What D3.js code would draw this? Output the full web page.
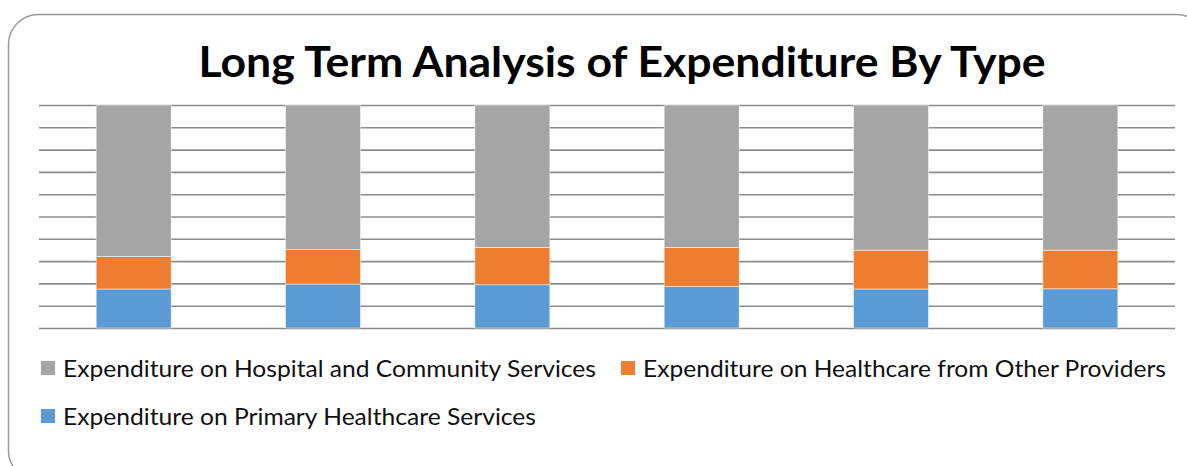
<!DOCTYPE html>
<html>
<head>
<meta charset="utf-8">
<script src="https://cdn.jsdelivr.net/npm/d3@7"></script>
<style>
  body { margin: 0; background: #fff; }
  svg { display: block; }
</style>
</head>
<body>
<div id="chart"></div>
<script>
// data (percent of total per period)
var periods = ["P1", "P2", "P3", "P4", "P5", "P6"];
var primary = [17.5, 19.7, 19.4, 18.6, 17.5, 17.6];
var otherProviders = [14.6, 15.5, 16.7, 17.5, 17.4, 17.3];
var hospital = [67.9, 64.8, 63.9, 63.9, 65.1, 65.1];
var yTicks = [0, 0.1, 0.2, 0.3, 0.4, 0.5, 0.6, 0.7, 0.8, 0.9, 1];

var seriesKeys = ["primary", "other", "hospital"];
var seriesNames = {
    hospital: "Expenditure on Hospital and Community Services",
    other: "Expenditure on Healthcare from Other Providers",
    primary: "Expenditure on Primary Healthcare Services"
};
var colors = { primary: "#5B9BD5", other: "#ED7D31", hospital: "#A5A5A5" };

var rows = periods.map(function(p, i) {
    return { period: p, primary: primary[i], other: otherProviders[i], hospital: hospital[i] };
});

var W = 1187, H = 466;
var margin = {top: 105, left: 39, right: 12, bottom: 138};
var width = W - margin.left - margin.right,
    height = H - margin.top - margin.bottom;

var svg = d3.select("#chart").append("svg")
    .attr("width", W)
    .attr("height", H);

// rounded frame
svg.append("rect")
    .attr("x", 8.5).attr("y", 14.5)
    .attr("width", 1198).attr("height", 466)
    .attr("rx", 30).attr("ry", 30)
    .attr("fill", "none")
    .attr("stroke", "#9a9a9a")
    .attr("stroke-width", 1.5);

// title
var title = svg.append("text")
    .attr("x", 622)
    .attr("y", 77)
    .attr("text-anchor", "middle")
    .attr("font-family", "Lato, 'Open Sans', sans-serif")
    .attr("font-weight", "bold")
    .attr("font-size", "42px")
    .attr("fill", "#000")
    .text("Long Term Analysis of Expenditure By Type");
title.attr("textLength", 847).attr("lengthAdjust", "spacingAndGlyphs");

var g = svg.append("g")
    .attr("transform", "translate(" + margin.left + "," + margin.top + ")");

var x = d3.scaleBand()
    .domain(periods)
    .range([0, width])
    .paddingInner(0.604)
    .paddingOuter(0.302);

var y = d3.scaleLinear()
    .domain([0, 1])
    .range([height, 0]);

// gridlines
g.append("g")
    .call(d3.axisLeft(y).tickValues(yTicks).tickSize(-width).tickFormat(""))
    .call(function(a) {
        a.select(".domain").remove();
        a.selectAll(".tick line")
            .attr("stroke", "#8c8c8c")
            .attr("stroke-width", 1.6);
    });

var stack = d3.stack()
    .keys(seriesKeys)
    .offset(d3.stackOffsetExpand);

var layers = g.selectAll(".layer")
    .data(stack(rows))
    .enter().append("g")
    .attr("class", "layer")
    .attr("fill", function(d) { return colors[d.key]; });

layers.selectAll("rect")
    .data(function(d) { return d; })
    .enter().append("rect")
    .attr("x", function(d) { return x(d.data.period); })
    .attr("y", function(d) { return y(d[1]); })
    .attr("width", x.bandwidth())
    .attr("height", function(d) { return y(d[0]) - y(d[1]); })
    .attr("stroke", "#ffffff")
    .attr("stroke-opacity", 0.6)
    .attr("stroke-width", 0.8);

// legend
var legendItems = [
    { key: "hospital", x: 41, y: 368, len: 533 },
    { key: "other", x: 621, y: 368, len: 523 },
    { key: "primary", x: 41, y: 416, len: 473 }
];

var legend = svg.selectAll(".legend")
    .data(legendItems)
    .enter().append("g")
    .attr("class", "legend")
    .attr("transform", function(d) { return "translate(" + d.x + "," + d.y + ")"; });

legend.append("rect")
    .attr("x", 0).attr("y", -7)
    .attr("width", 14).attr("height", 14)
    .attr("fill", function(d) { return colors[d.key]; });

legend.append("text")
    .attr("x", 22)
    .attr("y", 8.5)
    .attr("font-family", "Lato, 'Open Sans', sans-serif")
    .attr("font-size", "23px")
    .attr("fill", "#111")
    .attr("textLength", function(d) { return d.len; })
    .attr("lengthAdjust", "spacingAndGlyphs")
    .text(function(d) { return seriesNames[d.key]; });
</script>
</body>
</html>
